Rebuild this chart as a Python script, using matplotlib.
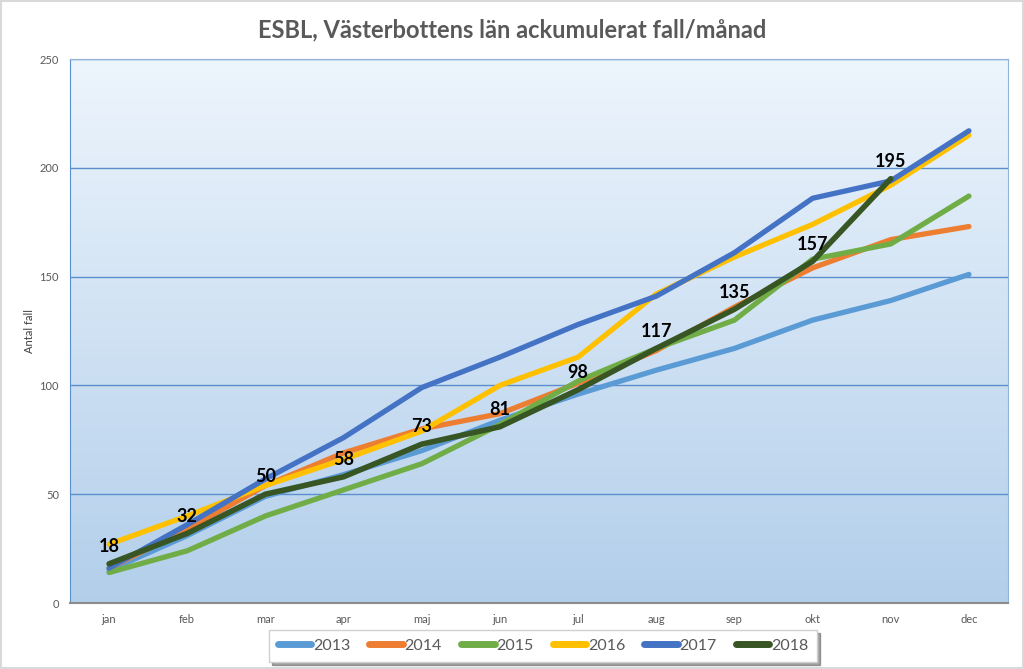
import matplotlib.pyplot as plt
import numpy as np
from matplotlib.patches import Rectangle

plt.rcParams['font.family'] = ['Lato', 'DejaVu Sans']

months = ['jan', 'feb', 'mar', 'apr', 'maj', 'jun', 'jul', 'aug', 'sep', 'okt', 'nov', 'dec']
y2013 = [15, 31, 49, 59, 70, 84, 96, 107, 117, 130, 139, 151]
y2014 = [16, 34, 54, 69, 80, 87, 101, 116, 136, 154, 167, 173]
y2015 = [14, 24, 40, 52, 64, 82, 102, 117, 130, 158, 165, 187]
y2016 = [27, 40, 54, 66, 79, 100, 113, 142, 159, 174, 192, 215]
y2017 = [16, 36, 57, 76, 99, 113, 128, 141, 161, 186, 194, 217]
y2018 = [18, 32, 50, 58, 73, 81, 98, 117, 135, 157, 195]

series = [('2013', y2013, '#5B9BD5'), ('2014', y2014, '#ED7D31'), ('2015', y2015, '#70AD47'),
          ('2016', y2016, '#FFC000'), ('2017', y2017, '#4472C4'), ('2018', y2018, '#375623')]

fig = plt.figure(figsize=(10.24, 6.69), dpi=100)
fig.patch.set_facecolor('white')
fig.patches.append(Rectangle((0.001, 0.001), 0.998, 0.997, transform=fig.transFigure,
                             fill=False, edgecolor='#D9D9D9', lw=1.5))
ax = fig.add_axes([70/1024, 1-603/669, 938/1024, 544/669])

# gradient background
grad = np.linspace(0, 1, 256).reshape(-1, 1)
c_top = np.array([0.93, 0.96, 0.99])
c_bot = np.array([0.70, 0.81, 0.92])
img = c_top[None, None, :] * (1 - grad[:, :, None]) + c_bot[None, None, :] * grad[:, :, None]
ax.imshow(img, extent=[0, 1, 0, 1], transform=ax.transAxes, aspect='auto', zorder=0)

x = np.arange(len(months))
for name, vals, col in series:
    ax.plot(x[:len(vals)], vals, color=col, lw=3.8 if name != '2018' else 4.0,
            solid_capstyle='round', solid_joinstyle='round', label=name, zorder=3)

for xi, v in zip(x, y2018):
    ax.text(xi, v + 4, str(v), ha='center', va='bottom', fontsize=13, fontweight='bold',
            color='black', zorder=5)

ax.set_xlim(-0.5, 11.5)
ax.set_ylim(0, 250)
ax.set_yticks(range(0, 251, 50))
ax.yaxis.grid(True, color='#5B8FCB', lw=1)
for gl in ax.get_ygridlines():
    gl.set_zorder(1)
ax.set_xticks(x)
ax.set_xticklabels(months)
ax.tick_params(length=0, labelsize=8, colors='#595959', pad=8)
ax.set_ylabel('Antal fall', fontsize=8, color='#404040')
ax.yaxis.set_label_coords(-0.037, 0.5)
for s in ['top', 'right']:
    ax.spines[s].set_color('#8FB4DC')
ax.spines['left'].set_color('#5B8FCB')
ax.spines['bottom'].set_color('#8C8C8C')
ax.spines['bottom'].set_linewidth(1.5)

fig.text(0.5, 1-30/669, 'ESBL, Västerbottens län ackumulerat fall/månad', ha='center', va='center',
         fontsize=17, fontweight='bold', color='#595959')

leg = fig.legend(loc='center', bbox_to_anchor=(543/1024, 1-646/669), ncol=6, frameon=True,
                 fontsize=11.5, handlelength=2.1, columnspacing=1.2, handletextpad=0.1,
                 borderpad=0.55, borderaxespad=0, fancybox=False, shadow=True, labelcolor='#595959')
leg.get_frame().set_edgecolor('#D0D0D0')
for line in leg.get_lines():
    line.set_linewidth(5)
    line.set_solid_capstyle('round')

fig.savefig('out.png', dpi=100)
